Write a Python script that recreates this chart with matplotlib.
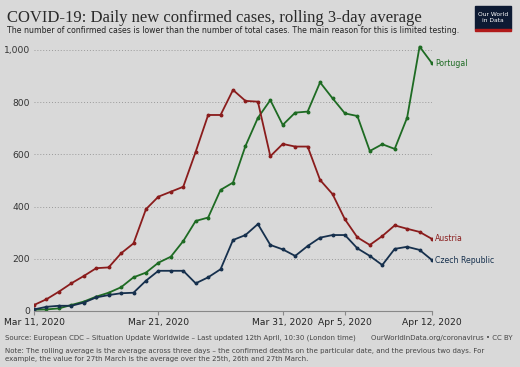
# COVID-19 daily new confirmed cases, rolling 3-day average (OWID style)

import matplotlib.pyplot as plt
import numpy as np
import pandas as pd

dates = pd.date_range("2020-03-11", "2020-04-12", freq="D")

portugal = [5, 6, 10, 23, 36, 55, 70, 91, 129, 147, 185, 208, 268, 345, 358, 464,
            492, 632, 740, 808, 713, 760, 764, 876, 815, 757, 747, 613, 639, 621,
            741, 1013, 949]
austria = [23, 45, 74, 106, 134, 164, 167, 221, 259, 390, 438, 457, 476, 610, 751,
           751, 847, 805, 802, 593, 640, 630, 630, 502, 448, 351, 282, 253, 287,
           328, 315, 303, 276]
czech = [6, 16, 20, 20, 32, 52, 61, 68, 70, 116, 154, 154, 154, 106, 129, 160, 272,
         291, 333, 253, 236, 211, 249, 281, 291, 291, 240, 211, 176, 238, 246, 234,
         195]

series = [("Portugal", portugal, "#1e6b23"),
          ("Austria", austria, "#8a1c1c"),
          ("Czech Republic", czech, "#16304d")]

tick_dates = ["2020-03-11", "2020-03-21", "2020-03-31", "2020-04-05", "2020-04-12"]
tick_labels = ["Mar 11, 2020", "Mar 21, 2020", "Mar 31, 2020", "Apr 5, 2020", "Apr 12, 2020"]
y_ticks = [0, 200, 400, 600, 800, 1000]

bg = "#d9d9d9"
fig = plt.figure(figsize=(5.2, 3.67), dpi=100, facecolor=bg)
ax = fig.add_axes([0.0654, 0.1526, 0.7654, 0.7254], facecolor=bg)

for name, vals, col in series:
    ax.plot(dates, vals, color=col, lw=1.3, marker="o", ms=1.8)
    ax.text(dates[-1] + pd.Timedelta(hours=6), vals[-1], name, color=col,
            fontsize=5.6, va="center", ha="left")

ax.set_xlim(dates[0], dates[-1])
ax.set_ylim(0, 1020)
ax.set_yticks(y_ticks)
ax.set_yticklabels(["0", "200", "400", "600", "800", "1,000"], fontsize=6.6, color="#333333")
ax.set_xticks(pd.to_datetime(tick_dates))
ax.set_xticklabels(tick_labels, fontsize=6.6, color="#222222")
ax.grid(axis="y", linestyle=(0, (1, 2)), color="#9a9a9a", lw=0.7)
for s in ["top", "right", "left"]:
    ax.spines[s].set_visible(False)
ax.spines["bottom"].set_color("#888888")
ax.tick_params(axis="y", length=0, pad=3)
ax.tick_params(axis="x", length=3, color="#888888", pad=2)

# title and subtitle
fig.text(0.013, 0.952, "COVID-19: Daily new confirmed cases, rolling 3-day average",
         family="Liberation Serif", fontsize=12, color="#2a2a2a", va="center")
fig.text(0.013, 0.918, "The number of confirmed cases is lower than the number of total cases. "
         "The main reason for this is limited testing.", fontsize=5.6, color="#222222", va="center")

# logo
fig.patches.append(plt.Rectangle((0.913, 0.92), 0.069, 0.065, transform=fig.transFigure,
                                 color="#0d1a33"))
fig.patches.append(plt.Rectangle((0.913, 0.915), 0.069, 0.007, transform=fig.transFigure,
                                 color="#b01a1a"))
fig.text(0.9475, 0.952, "Our World\nin Data", color="white", fontsize=4.3,
         ha="center", va="center", linespacing=1.1)

# footer
fig.text(0.010, 0.079, "Source: European CDC \u2013 Situation Update Worldwide \u2013 Last updated "
         "12th April, 10:30 (London time)", fontsize=5.0, color="#444444", va="center")
fig.text(0.985, 0.079, "OurWorldInData.org/coronavirus \u2022 CC BY", fontsize=5.0,
         color="#444444", va="center", ha="right")
fig.text(0.010, 0.033, "Note: The rolling average is the average across three days \u2013 the "
         "confirmed deaths on the particular date, and the previous two days. For\nexample, the "
         "value for 27th March is the average over the 25th, 26th and 27th March.",
         fontsize=5.0, color="#444444", va="center", linespacing=1.3)

fig.savefig("out.png", dpi=100, facecolor=bg)
